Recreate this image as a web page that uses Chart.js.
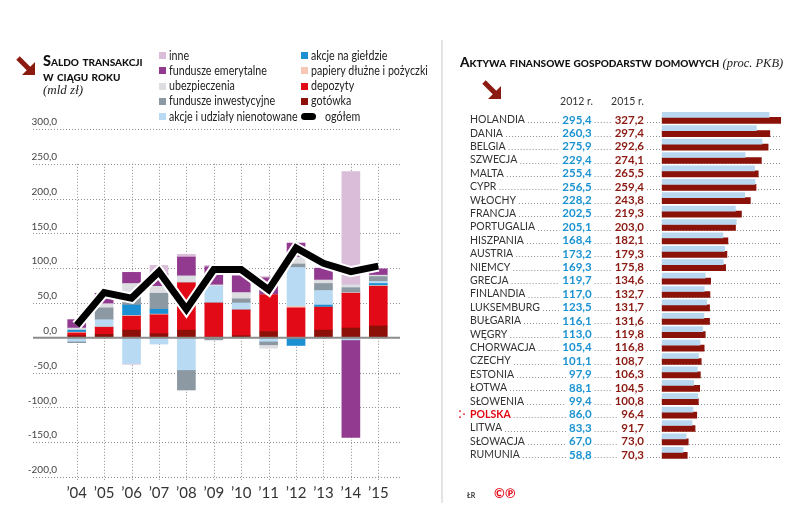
<!DOCTYPE html>
<html><head><meta charset="utf-8">
<script src="https://cdn.jsdelivr.net/npm/chart.js@4"></script>
<style>
body{margin:0;width:788px;height:528px;background:#fff;position:relative;overflow:hidden;font-family:Lato,'Open Sans',sans-serif;color:#222}
.abs{position:absolute;white-space:nowrap}
.ttl{font-weight:900;font-variant:small-caps;font-size:14.5px;color:#111;line-height:15px}
.it{font-family:'Liberation Serif','DejaVu Serif',serif;font-style:italic;font-size:13px;color:#222;font-weight:normal;font-variant:normal}
.lg{font-size:13px;color:#222;line-height:15px;transform:scaleX(0.82);transform-origin:0 50%}
.sw{position:absolute;width:7px;height:7px}
canvas{position:absolute;top:0}
</style></head><body>
<canvas id="c1" width="440" height="528" style="left:0"></canvas>
<canvas id="c2" width="345" height="528" style="left:443px"></canvas>

<svg class="abs" style="left:16px;top:56px" width="20" height="20" viewBox="0 0 20 20"><line x1="2" y1="2" x2="14" y2="14" stroke="#8b1a10" stroke-width="5"/><polygon points="19,6 19,19 6,19" fill="#8b1a10"/></svg>
<div class="abs ttl" style="left:43px;top:53px">Saldo transakcji<br>w ciągu roku</div>
<div class="abs it" style="left:43px;top:82px">(mld zł)</div>
<div id="legend"></div>

<div class="abs" style="left:441px;top:40px;width:2px;height:463px;background:#e4e4e4"></div>
<div class="abs ttl" style="left:460px;top:55px;font-size:13.6px">Aktywa finansowe gospodarstw domowych <span class="it" style="font-size:12.5px">(proc. PKB)</span></div>
<svg class="abs" style="left:482px;top:80px" width="20" height="20" viewBox="0 0 20 20"><line x1="2" y1="2" x2="14" y2="14" stroke="#8b1a10" stroke-width="5"/><polygon points="19,6 19,19 6,19" fill="#8b1a10"/></svg>
<div class="abs" style="left:560px;top:95px;width:33px;text-align:right;font-size:10.5px;color:#333">2012 r.</div>
<div class="abs" style="left:611px;top:95px;width:33px;text-align:right;font-size:10.5px;color:#333">2015 r.</div>
<div class="abs" style="left:467px;top:491px;font-size:7px;font-weight:bold;color:#333">ŁR</div>
<div class="abs" style="left:494px;top:485px;font-size:13px;font-weight:bold;color:#e30613">©℗</div>

<script>
// ---------- left chart data ----------
const years = ["’04","’05","’06","’07","’08","’09","’10","’11","’12","’13","’14","’15"];
const gotowka     = [3, 5, 11, 6, 11, 1, 3, 9, 0, 11, 14, 17];
const depozyty    = [4, 10, 20, 27, 68, 49, 37, 53, 43, 33, 50, 57];
const papiery     = [1, 1, 1, 1, 0, 0, 0, 0, 2, 0, 1, 1];
const gielda      = [3, 0, 15, 7, 0, 0, 0, 0, -11, 3, 0, 3];
const nienotowane = [-5, 10, -37, -9, -46, 24, 10, -5, 56, 21, -3, 3];
const inwestycyjne= [-2, 17, 14, 23, -29, -3, 6, -5, 5, 10, 7, 7];
const ubezpieczenia=[3, 6, 17, 10, 10, 2, 9, -5, 10, 5, 4, 2];
const emerytalne  = [12, 15, 16, 18, 27, 26, 24, 24, 20, 17, -140, 9];
const inne        = [0, 0, -1, 12, 4, 2, 0, 2, 0, 0, 163, 0];
const ogolem      = [18, 65, 57, 95, 41, 98, 98, 69, 129, 107, 95, 103];

const seriesNames = ['gotówka','depozyty','papiery dłużne i pożyczki','akcje na giełdzie','akcje i udziały nienotowane','fundusze inwestycyjne','ubezpieczenia','fundusze emerytalne','inne'];
const seriesData  = [gotowka, depozyty, papiery, gielda, nienotowane, inwestycyjne, ubezpieczenia, emerytalne, inne];
const seriesColors= ['#8c1007','#e30a17','#f6c7b4','#1d8fd3','#b8daf2','#8c99a3','#dcdee2','#923990','#d9bdd9'];

// ---------- right chart data ----------
const countries = ['HOLANDIA','DANIA','BELGIA','SZWECJA','MALTA','CYPR','WŁOCHY','FRANCJA','PORTUGALIA','HISZPANIA','AUSTRIA','NIEMCY','GRECJA','FINLANDIA','LUKSEMBURG','BUŁGARIA','WĘGRY','CHORWACJA','CZECHY','ESTONIA','ŁOTWA','SŁOWENIA','POLSKA','LITWA','SŁOWACJA','RUMUNIA'];
const v2012 = [295.4,260.3,275.9,229.4,255.4,256.5,228.2,202.5,205.1,168.4,173.2,169.3,119.7,117.0,123.5,116.1,113.0,105.4,101.1,97.9,88.1,99.4,86.0,83.3,67.0,58.8];
const v2015 = [327.2,297.4,292.6,274.1,265.5,259.4,243.8,219.3,203.0,182.1,179.3,175.8,134.6,132.7,131.7,131.6,119.8,116.8,108.7,106.3,104.5,100.8,96.4,91.7,73.0,70.3];

const fmt = v => v.toFixed(1).replace('.', ',');

// ---------- HTML legend ----------
(function(){
  const lg = document.getElementById('legend');
  const items = [];
  for (let i = seriesNames.length - 1; i >= 0; i--) items.push({name: seriesNames[i], color: seriesColors[i]});
  items.push({name:'ogółem', color:'#000', pill:true});
  items.forEach((it, k) => {
    const col = k < 5 ? 0 : 1, row = k % 5;
    const x = col ? 301 : 159, cy = 55.7 + row * 15.2;
    const sw = document.createElement('div');
    sw.className = 'sw';
    sw.style.background = it.color;
    if (it.pill) { sw.style.width='15px'; sw.style.height='7px'; sw.style.borderRadius='4px'; }
    sw.style.left = x + 'px'; sw.style.top = (cy - 3.5) + 'px';
    lg.appendChild(sw);
    const t = document.createElement('div');
    t.className = 'abs lg';
    t.textContent = it.name;
    t.style.left = (it.pill ? x + 24 : x + 10) + 'px';
    t.style.top = (cy - 8) + 'px';
    lg.appendChild(t);
  });
})();

// ---------- left chart ----------
const leftGrid = {
  id:'leftGrid',
  beforeDatasetsDraw(chart){
    const ctx = chart.ctx, ys = chart.scales.y, xs = chart.scales.x, a = chart.chartArea;
    const x0 = a.left - 30, x1 = a.right + 8;
    ctx.save();
    ctx.lineWidth = 1; ctx.strokeStyle = '#8f8f8f'; ctx.setLineDash([1,2]);
    ys.ticks.forEach(t => {
      if (t.value === 0) return;
      const py = Math.round(ys.getPixelForValue(t.value)) + 0.5;
      ctx.beginPath(); ctx.moveTo(x0, py); ctx.lineTo(x1, py); ctx.stroke();
    });
    const yt = ys.getPixelForValue(250), yb = ys.getPixelForValue(-200) + 3;
    years.forEach((y, i) => {
      const px = Math.round(xs.getPixelForValue(i)) + 0.5;
      ctx.beginPath(); ctx.moveTo(px, yt); ctx.lineTo(px, yb); ctx.stroke();
    });
    ctx.restore();
  }
};
const zeroLine = {
  id:'zeroLine',
  beforeDatasetDraw(chart, args){
    if (args.index !== 1) return; // just before the halo line is drawn
    const ctx = chart.ctx, ys = chart.scales.y, a = chart.chartArea;
    const py = ys.getPixelForValue(0);
    ctx.save(); ctx.strokeStyle = '#8c8c8c'; ctx.lineWidth = 2;
    ctx.beginPath(); ctx.moveTo(a.left - 30, py); ctx.lineTo(a.right + 8, py); ctx.stroke();
    ctx.restore();
  }
};

const barSets = seriesNames.map((n, i) => ({
  type:'bar', label:n, data:seriesData[i], backgroundColor:seriesColors[i], barThickness:18, borderWidth:0, order:0
}));

new Chart(document.getElementById('c1'), {
  type:'bar',
  data:{ labels: years, datasets:[
    {type:'line', label:'ogółem', data:ogolem, borderColor:'#000', borderWidth:7, pointRadius:0, tension:0, stack:'l1', order:-2, borderJoinStyle:'miter', borderCapStyle:'butt'},
    {type:'line', label:'halo', data:ogolem, borderColor:'#fff', borderWidth:11, pointRadius:0, tension:0, stack:'l2', order:-1, borderJoinStyle:'miter'},
    ...barSets
  ]},
  options:{
    responsive:false, animation:false,
    layout:{padding:{top:129, left:15, right:48, bottom:0}},
    plugins:{legend:{display:false}, tooltip:{enabled:false}},
    scales:{
      x:{stacked:true, grid:{display:false, drawTicks:false}, border:{display:false},
         ticks:{font:{family:'Lato', size:15}, color:'#333', padding:7},
         afterFit(s){ s.height = 51; }},
      y:{stacked:true, min:-200, max:300,
         ticks:{stepSize:50, callback:v => fmt(v), font:{family:'Lato', size:10}, color:'#444', padding:6, labelOffset:-7},
         grid:{display:false, drawTicks:false}, border:{display:false},
         afterFit(s){ s.width = 48; }}
    }
  },
  plugins:[leftGrid, zeroLine]
});

// ---------- right chart ----------
const col2012Right = 148.7, col2015Right = 201;
const rightText = {
  id:'rightText',
  beforeDatasetsDraw(chart){
    const ctx = chart.ctx, ys = chart.scales.y, a = chart.chartArea;
    ctx.save();
    countries.forEach((c, i) => {
      const cy = ys.getPixelForValue(i), ty = cy + 2.5;
      const isPl = c === 'POLSKA';
      ctx.font = (isPl ? 'bold ' : '') + '10.5px Lato';
      const nameEnd = ys.left + ctx.measureText(c).width;
      ctx.font = 'bold 11.5px Lato';
      const t1 = fmt(v2012[i]), t2 = fmt(v2015[i]);
      const w1 = ctx.measureText(t1).width, w2 = ctx.measureText(t2).width;
      ctx.textBaseline = 'middle'; ctx.textAlign = 'right';
      ctx.fillStyle = '#1b93d1'; ctx.fillText(t1, col2012Right, ty);
      ctx.fillStyle = '#8b1a12'; ctx.fillText(t2, col2015Right, ty);
      const ly = Math.round(cy + 5) + 0.5;
      ctx.strokeStyle = '#8f8f8f'; ctx.lineWidth = 1; ctx.setLineDash([1,2]);
      const segs = [[nameEnd + 3, col2012Right - w1 - 3], [col2012Right + 3, col2015Right - w2 - 3], [col2015Right + 3, a.right]];
      segs.forEach(s => { if (s[1] > s[0]) { ctx.beginPath(); ctx.moveTo(s[0], ly); ctx.lineTo(s[1], ly); ctx.stroke(); } });
      ctx.setLineDash([]);
      if (isPl) {
        ctx.fillStyle = '#e30613';
        [[17, cy - 1], [17, cy + 5], [21, cy + 2]].forEach(p => { ctx.beginPath(); ctx.arc(p[0], p[1], 0.9, 0, Math.PI * 2); ctx.fill(); });
      }
    });
    ctx.restore();
  }
};

new Chart(document.getElementById('c2'), {
  type:'bar',
  data:{ labels: countries, datasets:[
    {label:'2012 r.', data:v2012, backgroundColor:'#b9d8ef', barThickness:5, borderWidth:0},
    {label:'2015 r.', data:v2015, backgroundColor:'#8a1208', barThickness:6, borderWidth:0}
  ]},
  options:{
    indexAxis:'y', responsive:false, animation:false,
    layout:{padding:{top:110.6, bottom:69, left:27, right:6.3}},
    plugins:{legend:{display:false}, tooltip:{enabled:false}},
    scales:{
      x:{display:false, min:0, max:330},
      y:{grid:{display:false, drawTicks:false}, border:{display:false},
         ticks:{autoSkip:false, crossAlign:'far', padding:0, labelOffset:2.5,
                color: c => countries[c.index] === 'POLSKA' ? '#e30613' : '#333',
                font: c => ({family:'Lato', size:10.5, weight: countries[c.index] === 'POLSKA' ? 'bold' : 'normal'})},
         afterFit(s){ s.width = 191.7; }}
    }
  },
  plugins:[rightText]
});
</script>
</body></html>
